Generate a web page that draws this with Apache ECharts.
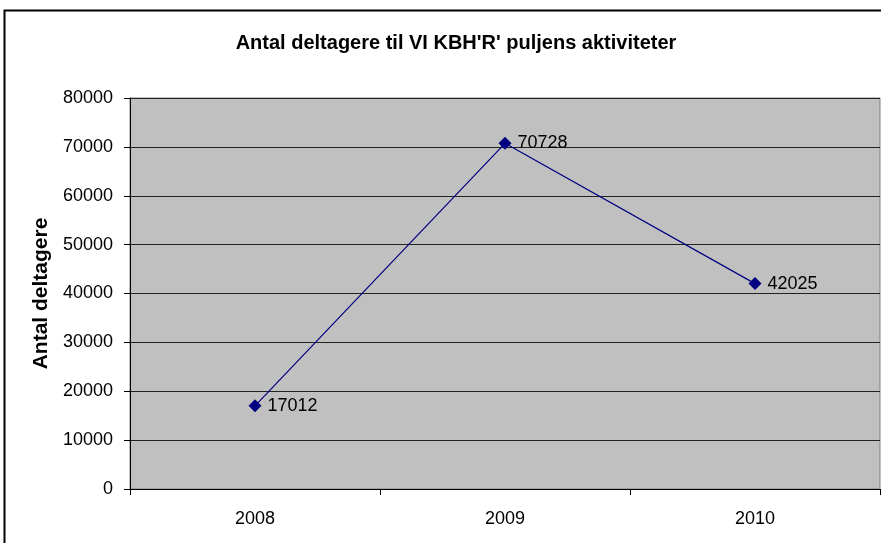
<!DOCTYPE html>
<html>
<head>
<meta charset="utf-8">
<script src="https://cdn.jsdelivr.net/npm/echarts@6/dist/echarts.min.js"></script>
<style>
html,body{margin:0;padding:0;background:#fff;}
#chart{width:881px;height:543px;}
</style>
</head>
<body>
<div id="chart"></div>
<script>
const titleText = "Antal deltagere til VI KBH'R' puljens aktiviteter";
const yAxisName = "Antal deltagere";
const categories = ["2008", "2009", "2010"];
const participants = [17012, 70728, 42025];

const chart = echarts.init(document.getElementById('chart'), null, {renderer: 'canvas'});
const font = "'Liberation Sans', Arial, sans-serif";
chart.setOption({
  backgroundColor: '#ffffff',
  animation: false,
  graphic: [{
    type: 'rect',
    shape: {x: 4.5, y: 10.5, width: 900, height: 560},
    style: {fill: 'none', stroke: '#000', lineWidth: 2},
    silent: true, z: -1
  }],
  title: {
    text: titleText,
    left: 451,
    top: 28,
    textAlign: 'center',
    textStyle: {fontFamily: font, fontSize: 20, fontWeight: 'bold', color: '#000'}
  },
  grid: {
    left: 130, right: 1, top: 98, bottom: 54,
    show: true, backgroundColor: '#c0c0c0', borderColor: '#808080', borderWidth: 1
  },
  xAxis: {
    type: 'category',
    data: categories,
    boundaryGap: true,
    axisLine: {lineStyle: {color: '#000', width: 1}},
    axisTick: {show: true, length: 6, lineStyle: {color: '#000'}},
    axisLabel: {margin: 21, fontFamily: font, fontSize: 18, color: '#000'},
    splitLine: {show: false}
  },
  yAxis: {
    type: 'value',
    min: 0, max: 80000, interval: 10000,
    name: yAxisName,
    nameLocation: 'middle',
    nameGap: 77,
    nameTextStyle: {fontFamily: font, fontSize: 21, fontWeight: 'bold', color: '#000'},
    axisLine: {show: true, lineStyle: {color: '#000', width: 1}},
    axisTick: {show: true, length: 6, lineStyle: {color: '#000'}},
    axisLabel: {margin: 17, fontFamily: font, fontSize: 18, color: '#000', formatter: (v) => String(v)},
    splitLine: {show: true, lineStyle: {color: '#222', width: 1}}
  },
  series: [{
    type: 'line',
    data: participants,
    symbol: 'diamond',
    symbolSize: 13,
    itemStyle: {color: '#000080'},
    lineStyle: {color: '#000080', width: 1.2},
    label: {
      show: true, position: 'right', distance: 6,
      fontFamily: font, fontSize: 18, color: '#000'
    }
  }]
});
</script>
</body>
</html>
